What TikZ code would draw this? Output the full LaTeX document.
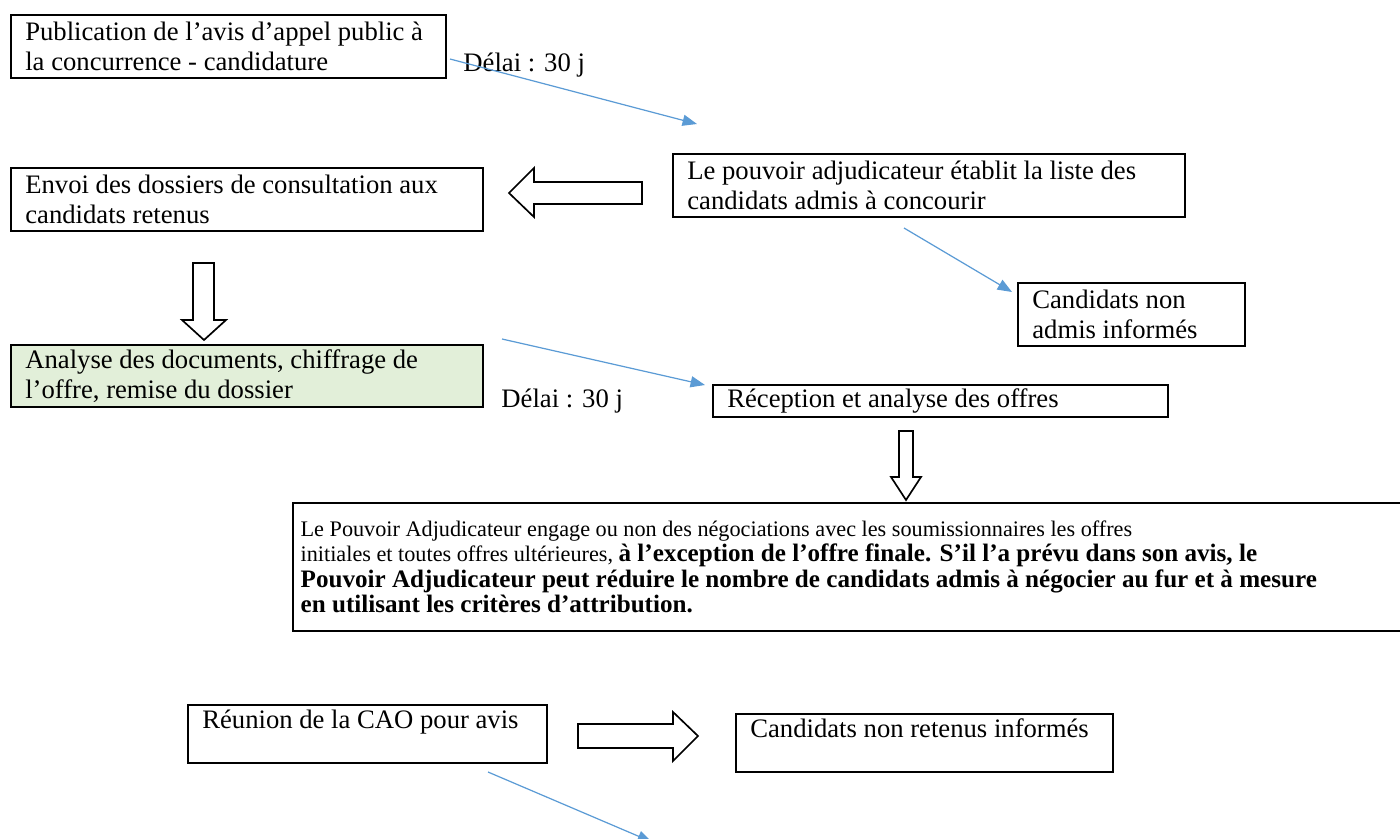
\documentclass[tikz,border=0pt]{standalone}
\usepackage{fontspec}
\setmainfont{Liberation Serif}
\usetikzlibrary{arrows.meta}
\definecolor{arrowblue}{HTML}{5B9BD5}
\definecolor{boxgreen}{HTML}{E2EFD9}
\tikzset{
  stepbox/.style={draw=black, line width=0.8pt, anchor=north west, align=left,
    inner xsep=6.5pt, inner ysep=0pt, font=\fontsize{12}{13.4}\selectfont},
  bigbox/.style={stepbox, inner xsep=3.5pt, font=\fontsize{10}{11.5}\selectfont},
  delai/.style={anchor=base west, inner sep=0pt, font=\fontsize{12}{13.4}\selectfont},
  bluearrow/.style={draw=arrowblue, line width=0.55pt, -{Triangle[length=6.5pt,width=5pt]}, arrowblue},
  blockarrow/.style={draw=black, line width=0.75pt, fill=white, line join=miter}
}
\newcommand{\nsp}{\spaceskip=0pt\xspaceskip=0pt\relax}
\newcommand{\bb}[1]{{\fontsize{11.3}{11.5}\selectfont\bfseries #1}}
\begin{document}
\begin{tikzpicture}[x=0.45pt, y=-0.45pt]
\useasboundingbox (0,0) rectangle (1400,838);

% boxes
\node[stepbox, minimum width=195.75pt, minimum height=28.35pt, text width=182.75pt] (pub) at (10,14)
  {\nsp\mbox{Publication de l’avis d’appel public à}\\ \mbox{la concurrence - candidature}};
\node[stepbox, minimum width=230.4pt, minimum height=28.35pt, text width=217.4pt] (liste) at (672,153)
  {\nsp\mbox{Le pouvoir adjudicateur établit la liste des}\\ \mbox{candidats admis à concourir}};
\node[stepbox, minimum width=212.4pt, minimum height=28.35pt, text width=199.4pt] (envoi) at (10,167)
  {\nsp\mbox{Envoi des dossiers de consultation aux}\\ \mbox{candidats retenus}};
\node[stepbox, minimum width=102.15pt, minimum height=28.35pt, text width=89.15pt] (nonadmis) at (1017,282)
  {\nsp\mbox{Candidats non}\\ \mbox{admis informés}};
\node[stepbox, fill=boxgreen, minimum width=212.4pt, minimum height=27.9pt, text width=199.4pt] (analyse) at (10,344)
  {\nsp\mbox{Analyse des documents, chiffrage de}\\ \mbox{l’offre, remise du dossier}};
\node[stepbox, minimum width=204.75pt, minimum height=14.4pt, text width=191.75pt] (reception) at (712,384)
  {\nsp\mbox{Réception et analyse des offres}};
\node[bigbox, minimum width=507.6pt, minimum height=57.6pt, text width=500.6pt] (nego) at (292,502)
  {\nsp\mbox{Le Pouvoir Adjudicateur engage ou non des négociations avec les soumissionnaires les offres}\\
   \mbox{initiales et toutes offres ultérieures, \bb{à l’exception de l’offre finale. S’il l’a prévu dans son avis, le}}\\
   \mbox{\bb{Pouvoir Adjudicateur peut réduire le nombre de candidats admis à négocier au fur et à mesure}}\\
   \mbox{\bb{en utilisant les critères d’attribution.}}};
\node[stepbox, minimum width=161.55pt, minimum height=26.1pt, text width=148.55pt,
      text height=10.8pt, text depth=15.3pt] (cao) at (187,704)
  {\nsp\mbox{Réunion de la CAO pour avis}};
\node[stepbox, minimum width=169.65pt, minimum height=26.1pt, text width=156.65pt,
      text height=10.4pt, text depth=15.7pt] (nonretenus) at (735,713)
  {\nsp\mbox{Candidats non retenus informés}};

% delay labels
\node[delai] (d1) at (463,71) {Délai : 30 j};
\node[delai] (d2) at (501,407) {Délai : 30 j};

% free ends of the thin arrows
\coordinate (a1s) at (450,59);  \coordinate (a1e) at (697,124);
\coordinate (a2s) at (904,228); \coordinate (a2e) at (1012,292);
\coordinate (a3s) at (502,339); \coordinate (a3e) at (705,385);
\coordinate (a4s) at (488,772); \coordinate (a4e) at (652,842);

\draw[bluearrow] (a1s) -- (a1e);
\draw[bluearrow] (a2s) -- (a2e);
\draw[bluearrow] (a3s) -- (a3e);
\draw[bluearrow] (a4s) -- (a4e);

% block arrows
\draw[blockarrow] (642,182) -- (534,182) -- (534,168) -- (509,193) -- (534,217) -- (534,204) -- (642,204) -- cycle;
\draw[blockarrow] (193,263) -- (214,263) -- (214,320) -- (226,320) -- (204,340) -- (182,320) -- (193,320) -- cycle;
\draw[blockarrow] (899,431) -- (913,431) -- (913,477) -- (921,477) -- (906,500) -- (891,477) -- (899,477) -- cycle;
\draw[blockarrow] (578,724) -- (673,724) -- (673,712) -- (698,736) -- (673,761) -- (673,748) -- (578,748) -- cycle;
\end{tikzpicture}
\end{document}
